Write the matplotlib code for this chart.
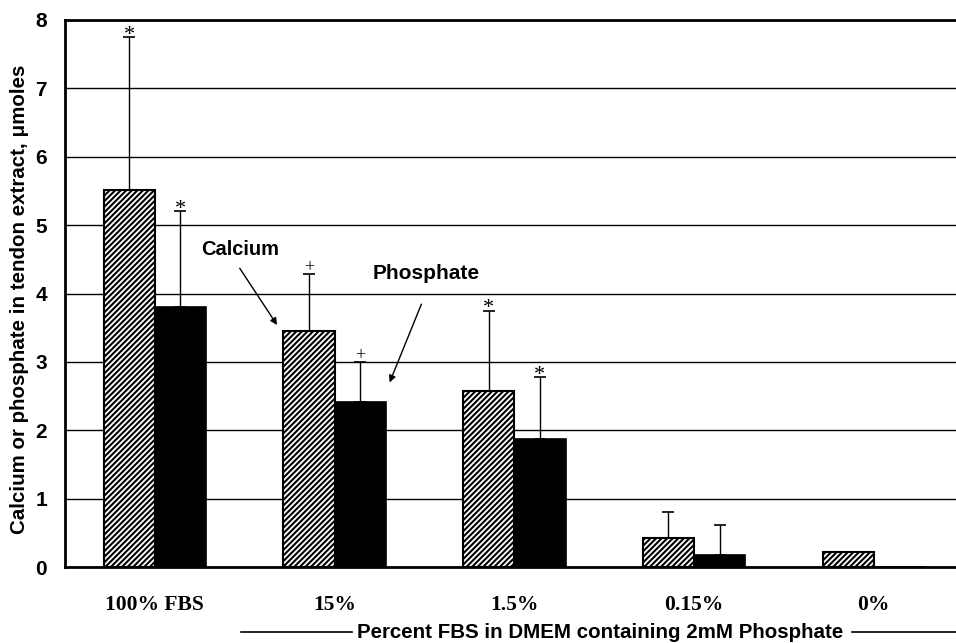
import numpy as np
import matplotlib.pyplot as plt

plt.rcParams["hatch.linewidth"] = 1.5

groups = ["100% FBS", "15%", "1.5%", "0.15%", "0%"]
calcium = [5.51, 3.45, 2.58, 0.43, 0.22]
calcium_err = [2.24, 0.83, 1.17, 0.38, 0.0]
phosphate = [3.80, 2.42, 1.88, 0.17, 0.0]
phosphate_err = [1.40, 0.58, 0.90, 0.45, 0.0]
calcium_marks = ["*", "+", "*", "", ""]
phosphate_marks = ["*", "+", "*", "", ""]

fig = plt.figure(figsize=(9.56, 6.43), dpi=100)
ax = fig.add_axes([0.068, 0.118, 0.94, 0.851])

x = np.arange(len(groups))
w = 0.285

ax.bar(x - w / 2, calcium, w, color="white", edgecolor="black", hatch="//////",
       linewidth=1.5, zorder=3)
ax.bar(x + w / 2, phosphate, w, color="black", edgecolor="black",
       linewidth=1.2, zorder=3)

# upward-only error bars
for i in range(len(groups)):
    if calcium_err[i] > 0:
        ax.errorbar(x[i] - w / 2, calcium[i], yerr=[[0], [calcium_err[i]]],
                    fmt="none", ecolor="black", elinewidth=1, capsize=4,
                    capthick=1.2, zorder=4)
    if phosphate_err[i] > 0:
        ax.errorbar(x[i] + w / 2, phosphate[i], yerr=[[0], [phosphate_err[i]]],
                    fmt="none", ecolor="black", elinewidth=1, capsize=4,
                    capthick=1.2, zorder=4)
    for xx, top, m in [(x[i] - w / 2, calcium[i] + calcium_err[i], calcium_marks[i]),
                       (x[i] + w / 2, phosphate[i] + phosphate_err[i], phosphate_marks[i])]:
        if m == "*":
            ax.text(xx, top - 0.04, m, ha="center", va="baseline", fontsize=16,
                    family="Liberation Serif", clip_on=False)
        elif m:
            ax.text(xx, top + 0.03, m, ha="center", va="baseline", fontsize=13,
                    family="Liberation Serif", clip_on=False)

ax.set_xlim(-0.5, 4.5)
ax.set_ylim(0, 8)
ax.set_yticks(range(0, 9))
ax.yaxis.grid(True, color="black", linewidth=1)
ax.set_axisbelow(True)
ax.tick_params(axis="both", length=0)
ax.tick_params(axis="y", pad=13)
ax.tick_params(axis="x", pad=20)
ax.set_xticks(x)
ax.set_xticklabels(groups, family="Liberation Serif", fontweight="bold", fontsize=15.5)
for lbl in ax.get_yticklabels():
    lbl.set_family("Liberation Sans")
    lbl.set_fontweight("bold")
    lbl.set_fontsize(15)

for s in ["left", "bottom", "top"]:
    ax.spines[s].set_linewidth(2)
ax.spines["right"].set_visible(False)

ax.set_ylabel("Calcium or phosphate in tendon extract, \u03bcmoles",
              family="Liberation Sans", fontweight="bold", fontsize=14.8)
ax.yaxis.set_label_coords(-0.040, 0.49)

ax.text(0.472, 4.65, "Calcium", family="Liberation Sans", fontweight="bold",
        fontsize=14.5, ha="center", va="center")
ax.annotate("", xy=(0.68, 3.54), xytext=(0.472, 4.37),
            arrowprops=dict(arrowstyle="-|>", color="black", lw=1,
                            shrinkA=0, shrinkB=0))
ax.text(1.511, 4.30, "Phosphate", family="Liberation Sans", fontweight="bold",
        fontsize=15, ha="center", va="center")
ax.annotate("", xy=(1.306, 2.70), xytext=(1.483, 3.845),
            arrowprops=dict(arrowstyle="-|>", color="black", lw=1,
                            shrinkA=0, shrinkB=0))

fig.text(0.628, 0.017, "Percent FBS in DMEM containing 2mM Phosphate",
         family="Liberation Sans", fontweight="bold", fontsize=14.8,
         ha="center", va="center")
fig.add_artist(plt.Line2D([0.252, 0.368], [0.017, 0.017], color="black", lw=1.2,
                          transform=fig.transFigure))
fig.add_artist(plt.Line2D([0.891, 1.0], [0.017, 0.017], color="black", lw=1.2,
                          transform=fig.transFigure))

fig.savefig("out.png", dpi=100)
